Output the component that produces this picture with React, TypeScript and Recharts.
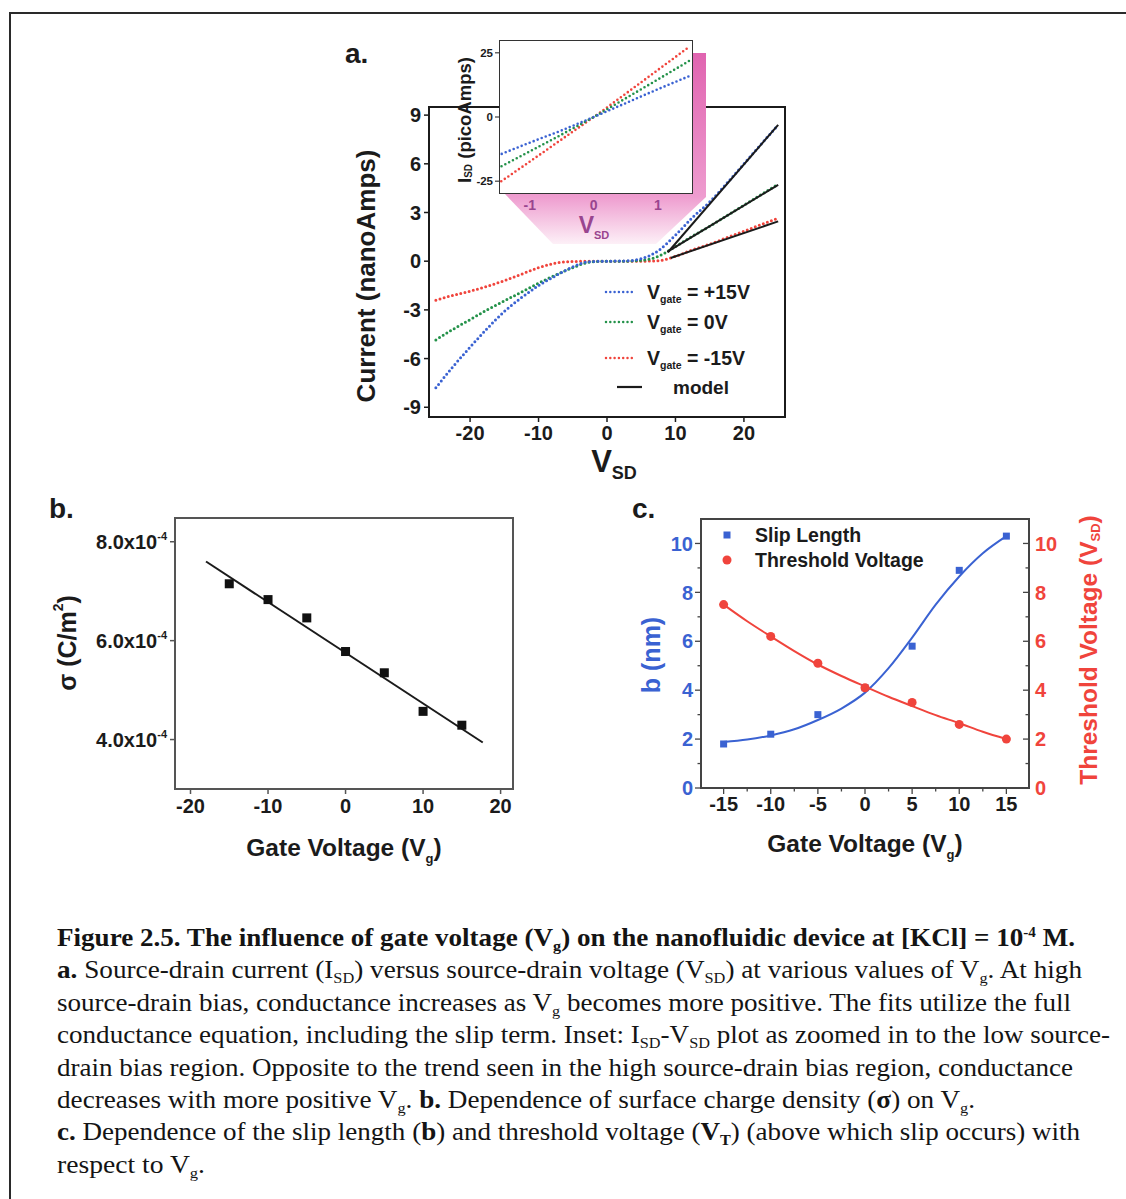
import React, { useLayoutEffect, useRef } from "react"
import { ComposedChart, Line, Scatter, XAxis, YAxis, ReferenceArea } from "recharts"

const SANS = "'Liberation Sans', Arial, Helvetica, sans-serif"
const SERIF = "'Liberation Serif', 'Times New Roman', serif"
const INK = "#1b1b1b"
const BLUE = "#3a62d2"
const GREEN = "#24924a"
const RED = "#f0443c"
const PURPLE = "#99458f"

// ---- panel a: I-V sweeps (nanoAmps) at three gate voltages
const vsd = [-25, -22.5, -20, -17.5, -15, -12.5, -10, -7.5, -5, -2.5, 0, 2.5, 5, 7.5, 10, 12.5, 15, 17.5, 20, 22.5, 25]
const iGatePlus15 = [-7.8, -6.5, -5.3, -4.15, -3.1, -2.25, -1.5, -0.9, -0.35, -0.03, 0, 0.01, 0.15, 0.65, 1.6, 2.7, 3.65, 4.8, 6.0, 7.2, 8.4]
const iGate0 = [-4.85, -4.2, -3.6, -3.0, -2.45, -1.9, -1.35, -0.85, -0.4, -0.06, 0, 0, 0.05, 0.3, 0.9, 1.55, 2.15, 2.8, 3.45, 4.1, 4.75]
const iGateMinus15 = [-2.4, -2.1, -1.85, -1.55, -1.2, -0.8, -0.4, -0.12, -0.02, 0, 0, 0, 0, 0.03, 0.3, 0.7, 1.05, 1.45, 1.85, 2.25, 2.65]
const gateLabels = ["+15V", "0V", "-15V"]

// model fits (start / end of the straight segments)
const modelPlus15V = [8.9, 25]
const modelPlus15I = [0.55, 8.4]
const modelZeroV = [8.8, 25]
const modelZeroI = [0.58, 4.7]
const modelMinus15V = [9.3, 25]
const modelMinus15I = [0.2, 2.45]

// inset: low bias region (picoAmps)
const insetV = [-1.5, -1, -0.5, 0, 0.5, 1, 1.5]
const insetPlus15 = [-15, -10, -5.2, 0, 5.4, 10.8, 16]
const insetZero = [-20, -13.4, -6.8, 0, 7.3, 14.6, 22]
const insetMinus15 = [-26, -17.4, -8.7, 0, 9.1, 18.3, 27.5]

// ---- panel b: surface charge density (x1e-4 C/m2)
const gateV = [-15, -10, -5, 0, 5, 10, 15]
const sigma = [7.15, 6.83, 6.46, 5.78, 5.35, 4.57, 4.29]
const sigmaFitV = [-18, 17.7]
const sigmaFit = [7.6, 3.94]

// ---- panel c: slip length and threshold voltage
const slipLength = [1.8, 2.2, 3.0, 4.1, 5.8, 8.9, 10.3]
const thresholdV = [7.5, 6.2, 5.1, 4.1, 3.5, 2.6, 2.0]
const fitGateV = [-15, -12.5, -10, -7.5, -5, -2.5, 0, 2.5, 5, 7.5, 10, 12.5, 15]
const slipFit = [1.88, 1.98, 2.15, 2.4, 2.78, 3.25, 3.9, 4.9, 6.15, 7.5, 8.65, 9.6, 10.3]
const thresholdFit = [7.5, 6.82, 6.2, 5.6, 5.05, 4.58, 4.15, 3.73, 3.35, 2.98, 2.65, 2.3, 2.0]

const pts = (xs: number[], ys: number[]) => xs.map((x, i) => ({ x, y: ys[i] }))

const dotted = (c: string, w = 3) => ({
  stroke: c,
  strokeWidth: w,
  strokeDasharray: "0 4.3",
  strokeLinecap: "round" as const,
})

const boldTick = (size: number, fill = INK) => ({ fill, fontSize: size, fontWeight: 700, fontFamily: SANS })

function PanelA() {
  return (
    <div style={{ position: "absolute", left: 340, top: 90 }}>
      <ComposedChart width={470} height={400} margin={{ top: 17, right: 25, bottom: 43, left: 39 }}>
        <XAxis type="number" dataKey="x" domain={[-26, 26]} ticks={[-20, -10, 0, 10, 20]} interval={0}
          allowDataOverflow height={30} axisLine={false} tickSize={5} tickMargin={4}
          tickLine={{ stroke: INK, strokeWidth: 1.5 }} tick={boldTick(20)} />
        <YAxis type="number" dataKey="y" domain={[-9.6, 9.5]} ticks={[-9, -6, -3, 0, 3, 6, 9]} interval={0}
          allowDataOverflow width={50} axisLine={false} tickSize={5} tickMargin={3}
          tickLine={{ stroke: INK, strokeWidth: 1.5 }} tick={boldTick(20)} />
        <ReferenceArea x1={-26} x2={26} y1={-9.6} y2={9.5} fill="none" fillOpacity={0} stroke={INK} strokeWidth={2} />
        <Line data={pts(vsd, iGateMinus15)} dataKey="y" type="monotone" dot={false} activeDot={false} isAnimationActive={false} {...dotted(RED)} />
        <Line data={pts(vsd, iGate0)} dataKey="y" type="monotone" dot={false} activeDot={false} isAnimationActive={false} {...dotted(GREEN)} />
        <Line data={pts(vsd, iGatePlus15)} dataKey="y" type="monotone" dot={false} activeDot={false} isAnimationActive={false} {...dotted(BLUE)} />
        <Line data={pts(modelPlus15V, modelPlus15I)} dataKey="y" type="linear" dot={false} activeDot={false} isAnimationActive={false} stroke={INK} strokeWidth={2} />
        <Line data={pts(modelZeroV, modelZeroI)} dataKey="y" type="linear" dot={false} activeDot={false} isAnimationActive={false} stroke={INK} strokeWidth={2} />
        <Line data={pts(modelMinus15V, modelMinus15I)} dataKey="y" type="linear" dot={false} activeDot={false} isAnimationActive={false} stroke={INK} strokeWidth={2} />
      </ComposedChart>
    </div>
  )
}

function InsetHighlight() {
  return (
    <svg width={1126} height={1199} style={{ position: "absolute", left: 0, top: 0, pointerEvents: "none" }}>
      <defs>
        <linearGradient id="pinkfade" x1="0" y1="53" x2="0" y2="244" gradientUnits="userSpaceOnUse">
          <stop offset="0" stopColor="#e064b0" />
          <stop offset="0.75" stopColor="#ee9ccf" />
          <stop offset="1" stopColor="#fdf0f7" />
        </linearGradient>
      </defs>
      <polygon points="693,53 706,53 706,197 656,244 553,244 505,194" fill="url(#pinkfade)" />
    </svg>
  )
}

function Inset() {
  return (
    <>
      <div style={{ position: "absolute", left: 499, top: 40, width: 194, height: 154, background: "white", border: "1.5px solid #333", boxSizing: "border-box" }} />
      <div style={{ position: "absolute", left: 440, top: 30 }}>
        <ComposedChart width={265} height={190} margin={{ top: 10, right: 12, bottom: 6, left: 29 }}>
          <XAxis type="number" dataKey="x" domain={[-1.48, 1.55]} ticks={[-1, 0, 1]} interval={0}
            allowDataOverflow height={20} axisLine={false} tickSize={3} tickMargin={3}
            tickLine={false} tick={boldTick(14, PURPLE)} />
          <YAxis type="number" dataKey="y" domain={[-30, 30]} ticks={[-25, 0, 25]} interval={0}
            allowDataOverflow width={30} axisLine={false} tickSize={4} tickMargin={2}
            tickLine={{ stroke: INK, strokeWidth: 1 }} tick={boldTick(11.5)} />
          <Line data={pts(insetV, insetMinus15)} dataKey="y" type="monotone" dot={false} activeDot={false} isAnimationActive={false} {...dotted(RED, 2.6)} />
          <Line data={pts(insetV, insetZero)} dataKey="y" type="monotone" dot={false} activeDot={false} isAnimationActive={false} {...dotted(GREEN, 2.6)} />
          <Line data={pts(insetV, insetPlus15)} dataKey="y" type="monotone" dot={false} activeDot={false} isAnimationActive={false} {...dotted(BLUE, 2.6)} />
        </ComposedChart>
      </div>
    </>
  )
}

const SigmaTick = (props: any) => {
  const { x, y, payload } = props
  return (
    <text x={x} y={y} dy="0.36em" textAnchor="end" fill={INK} fontSize={20} fontWeight={700} fontFamily={SANS}>
      {payload.value.toFixed(1)}x10<tspan dy={-9} fontSize={11}>-4</tspan>
    </text>
  )
}

function PanelB() {
  const frame = "#555"
  return (
    <div style={{ position: "absolute", left: 40, top: 490 }}>
      <ComposedChart width={500} height={380} margin={{ top: 28, right: 27, bottom: 51, left: 40 }}>
        <XAxis type="number" dataKey="x" domain={[-22, 21.6]} ticks={[-20, -10, 0, 10, 20]} interval={0}
          allowDataOverflow height={30} axisLine={false} tickSize={5} tickMargin={5}
          tickLine={{ stroke: frame, strokeWidth: 1.5 }} tick={boldTick(20)} />
        <YAxis type="number" dataKey="y" domain={[3.0, 8.48]} ticks={[4, 6, 8]} interval={0}
          allowDataOverflow width={95} axisLine={false} tickSize={5} tickMargin={3}
          tickLine={{ stroke: frame, strokeWidth: 1.5 }} tick={(p: any) => <SigmaTick {...p} />} />
        <ReferenceArea x1={-22} x2={21.6} y1={3.0} y2={8.48} fill="none" fillOpacity={0} stroke={frame} strokeWidth={2} />
        <Line data={pts(sigmaFitV, sigmaFit)} dataKey="y" type="linear" dot={false} activeDot={false} isAnimationActive={false} stroke={INK} strokeWidth={2} />
        <Scatter data={pts(gateV, sigma)} dataKey="y" isAnimationActive={false}
          shape={(p: any) => <rect x={p.cx - 4.5} y={p.cy - 4.5} width={9} height={9} fill="#111" />} />
      </ComposedChart>
    </div>
  )
}

const LeftMinorTick = (props: any) => {
  const { x, y, payload } = props
  const ax = x + 8
  const major = payload.value % 2 === 0
  return (
    <g>
      <line x1={ax} x2={ax - (major ? 6 : 3.5)} y1={y} y2={y} stroke="#444" strokeWidth={1.3} />
      {major && (
        <text x={x} y={y} dy="0.36em" textAnchor="end" fill={BLUE} fontSize={20} fontWeight={700} fontFamily={SANS}>{payload.value}</text>
      )}
    </g>
  )
}

const RightMinorTick = (props: any) => {
  const { x, y, payload } = props
  const ax = x - 6
  const major = payload.value % 2 === 0
  return (
    <g>
      <line x1={ax} x2={ax - (major ? 6 : 3.5)} y1={y} y2={y} stroke="#444" strokeWidth={1.3} />
      {major && (
        <text x={x} y={y} dy="0.36em" textAnchor="start" fill={RED} fontSize={20} fontWeight={700} fontFamily={SANS}>{payload.value}</text>
      )}
    </g>
  )
}

const BottomMinorTick = (props: any) => {
  const { x, y, payload } = props
  const ay = y - 9
  const major = payload.value % 5 === 0
  return (
    <g>
      <line x1={x} x2={x} y1={ay} y2={ay + (major ? 6 : 3.5)} stroke="#444" strokeWidth={1.3} />
      {major && (
        <text x={x} y={y} dy="0.72em" textAnchor="middle" fill={INK} fontSize={20} fontWeight={700} fontFamily={SANS}>{payload.value}</text>
      )}
    </g>
  )
}

function PanelC() {
  const frame = "#444"
  return (
    <div style={{ position: "absolute", left: 620, top: 490 }}>
      <ComposedChart width={500} height={380} margin={{ top: 29, right: 41, bottom: 52, left: 31 }}>
        <XAxis type="number" dataKey="x" domain={[-17.4, 17.4]} ticks={[-15, -12.5, -10, -7.5, -5, -2.5, 0, 2.5, 5, 7.5, 10, 12.5, 15]}
          interval={0} allowDataOverflow height={30} axisLine={false} tickLine={false} tickSize={5} tickMargin={4}
          tick={(p: any) => <BottomMinorTick {...p} />} />
        <YAxis yAxisId="L" type="number" dataKey="y" domain={[0, 11]} ticks={[0, 1, 2, 3, 4, 5, 6, 7, 8, 9, 10]} interval={0}
          allowDataOverflow width={50} axisLine={false} tickLine={false} tickSize={6} tickMargin={2}
          tick={(p: any) => <LeftMinorTick {...p} />} />
        <YAxis yAxisId="R" orientation="right" type="number" dataKey="y" domain={[0, 11]} ticks={[0, 1, 2, 3, 4, 5, 6, 7, 8, 9, 10]} interval={0}
          allowDataOverflow width={50} axisLine={false} tickLine={false} tickSize={3} tickMargin={3}
          tick={(p: any) => <RightMinorTick {...p} />} />
        <ReferenceArea yAxisId="L" x1={-17.4} x2={17.4} y1={0} y2={11} fill="none" fillOpacity={0} stroke={frame} strokeWidth={2} />
        <Line yAxisId="L" data={pts(fitGateV, slipFit)} dataKey="y" type="monotone" dot={false} activeDot={false} isAnimationActive={false} stroke={BLUE} strokeWidth={2} />
        <Line yAxisId="R" data={pts(fitGateV, thresholdFit)} dataKey="y" type="monotone" dot={false} activeDot={false} isAnimationActive={false} stroke={RED} strokeWidth={2} />
        <Scatter yAxisId="L" data={pts(gateV, slipLength)} dataKey="y" isAnimationActive={false}
          shape={(p: any) => <rect x={p.cx - 3.5} y={p.cy - 3.5} width={7} height={7} fill={BLUE} />} />
        <Scatter yAxisId="R" data={pts(gateV, thresholdV)} dataKey="y" isAnimationActive={false}
          shape={(p: any) => <circle cx={p.cx} cy={p.cy} r={4.5} fill={RED} />} />
      </ComposedChart>
    </div>
  )
}

function Overlay() {
  const b = { fontFamily: SANS, fontWeight: 700 }
  const legendColors = [BLUE, GREEN, RED]
  const legendY = [292, 322, 358]
  return (
    <svg width={1126} height={1199} style={{ position: "absolute", left: 0, top: 0, pointerEvents: "none" }}>
      {/* panel letters */}
      <text x={345} y={63} fontSize={28} {...b} fill={INK}>a.</text>
      <text x={49} y={518} fontSize={28} {...b} fill={INK}>b.</text>
      <text x={632} y={518} fontSize={28} {...b} fill={INK}>c.</text>

      {/* panel a titles */}
      <text transform="translate(366,276) rotate(-90)" textAnchor="middle" dominantBaseline="central" fontSize={26} {...b} fill={INK}>
        Current (nanoAmps)
      </text>
      <text x={614} y={472} textAnchor="middle" fontSize={31} {...b} fill={INK}>
        V<tspan dy={7} fontSize={18}>SD</tspan>
      </text>
      <text transform="translate(464,120) rotate(-90)" textAnchor="middle" dominantBaseline="central" fontSize={18.5} {...b} fill={INK}>
        I<tspan dy={4} fontSize={10}>SD</tspan><tspan dy={-4}> (picoAmps)</tspan>
      </text>
      <text x={594} y={233} textAnchor="middle" fontSize={23} {...b} fill={PURPLE}>
        V<tspan dy={6} fontSize={11}>SD</tspan>
      </text>

      {/* panel a legend */}
      {legendColors.map((c, i) => (
        <g key={c}>
          <line x1={606} x2={632} y1={legendY[i]} y2={legendY[i]} stroke={c} strokeWidth={2.5} strokeDasharray="0 4.3" strokeLinecap="round" />
          <text x={647} y={legendY[i] + 7} fontSize={19.5} {...b} fill={INK}>
            V<tspan dy={4} fontSize={10.5}>gate</tspan><tspan dy={-4}> = {gateLabels[i]}</tspan>
          </text>
        </g>
      ))}
      <line x1={617} x2={642} y1={387} y2={387} stroke={INK} strokeWidth={2.2} />
      <text x={673} y={394} fontSize={19} {...b} fill={INK}>model</text>

      {/* panel b titles */}
      <text transform="translate(67,643) rotate(-90)" textAnchor="middle" dominantBaseline="central" fontSize={25} {...b} fill={INK}>
        σ  (C/m<tspan dy={-9} fontSize={14}>2</tspan><tspan dy={9}>)</tspan>
      </text>
      <text x={344} y={856} textAnchor="middle" fontSize={24.5} {...b} fill={INK}>
        Gate Voltage (V<tspan dy={7} fontSize={13}>g</tspan><tspan dy={-7}>)</tspan>
      </text>

      {/* panel c titles */}
      <text transform="translate(651,655) rotate(-90)" textAnchor="middle" dominantBaseline="central" fontSize={25} {...b} fill={BLUE}>
        b (nm)
      </text>
      <text transform="translate(1088,650) rotate(-90)" textAnchor="middle" dominantBaseline="central" fontSize={24.5} {...b} fill={RED}>
        Threshold Voltage (V<tspan dy={7} fontSize={13}>SD</tspan><tspan dy={-7}>)</tspan>
      </text>
      <text x={865} y={852} textAnchor="middle" fontSize={24.5} {...b} fill={INK}>
        Gate Voltage (V<tspan dy={7} fontSize={13}>g</tspan><tspan dy={-7}>)</tspan>
      </text>

      {/* panel c legend */}
      <rect x={723.5} y={531.5} width={7} height={7} fill={BLUE} />
      <text x={755} y={542} fontSize={19.5} {...b} fill={INK}>Slip Length</text>
      <circle cx={727} cy={560} r={4.5} fill={RED} />
      <text x={755} y={567} fontSize={19.5} {...b} fill={INK}>Threshold Voltage</text>
    </svg>
  )
}

const Sub = ({ children }: { children: React.ReactNode }) => (
  <span style={{ fontSize: 15, verticalAlign: "-5px", lineHeight: 0 }}>{children}</span>
)
const Sup = ({ children }: { children: React.ReactNode }) => (
  <span style={{ fontSize: 14, verticalAlign: "9px", lineHeight: 0 }}>{children}</span>
)

function CaptionLine({ top, width, children }: { top: number; width: number; children: React.ReactNode }) {
  const ref = useRef<HTMLDivElement>(null)
  useLayoutEffect(() => {
    const el = ref.current
    if (!el) return
    el.style.transform = "none"
    const natural = el.getBoundingClientRect().width
    if (natural > 0) el.style.transform = `scaleX(${width / natural})`
  }, [width])
  return (
    <div ref={ref} style={{
      position: "absolute", left: 57, top, whiteSpace: "nowrap", fontFamily: SERIF, fontSize: 25,
      lineHeight: "25px", transformOrigin: "0 0", color: "#141414",
    }}>
      {children}
    </div>
  )
}

function Caption() {
  const top = (i: number) => 925 + i * 32.4
  return (
    <>
      <CaptionLine top={top(0)} width={1018}>
        <b>Figure 2.5. The influence of gate voltage (V<Sub>g</Sub>) on the nanofluidic device at [KCl] = 10<Sup>-4</Sup> M.</b>
      </CaptionLine>
      <CaptionLine top={top(1)} width={1025}>
        <b>a.</b> Source-drain current (I<Sub>SD</Sub>) versus source-drain voltage (V<Sub>SD</Sub>) at various values of V<Sub>g</Sub>. At high
      </CaptionLine>
      <CaptionLine top={top(2)} width={1014}>
        source-drain bias, conductance increases as V<Sub>g</Sub> becomes more positive. The fits utilize the full
      </CaptionLine>
      <CaptionLine top={top(3)} width={1053}>
        conductance equation, including the slip term. Inset: I<Sub>SD</Sub>-V<Sub>SD</Sub> plot as zoomed in to the low source-
      </CaptionLine>
      <CaptionLine top={top(4)} width={1016}>
        drain bias region. Opposite to the trend seen in the high source-drain bias region, conductance
      </CaptionLine>
      <CaptionLine top={top(5)} width={918}>
        decreases with more positive V<Sub>g</Sub>. <b>b.</b> Dependence of surface charge density (<b>σ</b>) on V<Sub>g</Sub>.
      </CaptionLine>
      <CaptionLine top={top(6)} width={1023}>
        <b>c.</b> Dependence of the slip length (<b>b</b>) and threshold voltage (<b>V<Sub>T</Sub></b>) (above which slip occurs) with
      </CaptionLine>
      <CaptionLine top={top(7)} width={148}>
        respect to V<Sub>g</Sub>.
      </CaptionLine>
    </>
  )
}

export default function App() {
  return (
    <div style={{ position: "absolute", left: 0, top: 0, width: 1126, height: 1199, overflow: "hidden", background: "white" }}>
      <div style={{ position: "absolute", left: 9, top: 12, width: 1300, height: 1400, border: "2px solid #2a2a2a" }} />
      <PanelA />
      <InsetHighlight />
      <Inset />
      <PanelB />
      <PanelC />
      <Overlay />
      <Caption />
    </div>
  )
}
